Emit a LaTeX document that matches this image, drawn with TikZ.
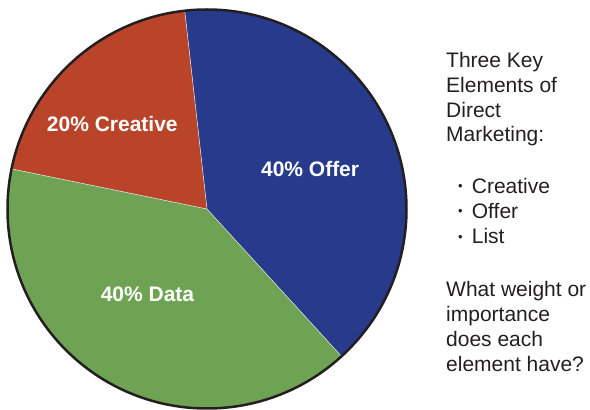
\documentclass[tikz,border=0pt]{standalone}
\usepackage{fontspec}
\setmainfont{Liberation Sans}
\definecolor{pieblue}{RGB}{39,58,140}
\definecolor{piered}{RGB}{186,68,42}
\definecolor{piegreen}{RGB}{111,163,84}
\definecolor{textgray}{RGB}{35,31,32}
\begin{document}
\begin{tikzpicture}[x=1pt,y=1pt,
  lbl/.style={text=white,font=\fontsize{21}{25}\selectfont\bfseries,inner sep=0,anchor=base},
  txt/.style={anchor=base west,inner sep=0,text=textgray,font=\fontsize{21}{25}\selectfont},
  bul/.style={anchor=base west,inner sep=0,text=textgray,font=\fontsize{13}{15}\selectfont},
  divider/.style={white!80!gray,line width=0.5}]
\useasboundingbox (0,0) rectangle (590,410);
\coordinate (c) at (207,201);
\def\R{199.5}
\fill[pieblue] (c) -- ++(96.4:\R) arc[start angle=96.4,end angle=-47.6,radius=\R] -- cycle;
\fill[piered] (c) -- ++(96.4:\R) arc[start angle=96.4,end angle=168.4,radius=\R] -- cycle;
\fill[piegreen] (c) -- ++(168.4:\R) arc[start angle=168.4,end angle=312.4,radius=\R] -- cycle;
\draw[divider] (c) -- ++(96.4:\R);
\draw[divider] (c) -- ++(168.4:\R);
\draw[divider] (c) -- ++(-47.6:\R);
\draw[line width=2.5,textgray] (c) circle[radius=\R];
\node[lbl] (creative) at (112.3,278.3) {20\% Creative};
\node[lbl] (offer) at (310.1,233.3) {40\% Offer};
\node[lbl] (data) at (147.5,108.3) {40\% Data};
\node[txt] (t1) at (446,342.7) {Three Key};
\node[txt] (t2) at (446,317.7) {Elements of};
\node[txt] (t3) at (446,292.7) {Direct};
\node[txt] (t4) at (446,268) {Marketing:};
\node[bul] (b1) at (457.8,219.4) {•};
\node[txt] (l1) at (471.7,216.7) {Creative};
\node[bul] (b2) at (457.8,194) {•};
\node[txt] (l2) at (471.7,191.3) {Offer};
\node[bul] (b3) at (457.8,168.7) {•};
\node[txt] (l3) at (471.7,166) {List};
\node[txt] (q1) at (446,113.3) {What weight or};
\node[txt] (q2) at (446,88.3) {importance};
\node[txt] (q3) at (446,63.3) {does each};
\node[txt] (q4) at (446,38.3) {element have?};
\end{tikzpicture}
\end{document}
